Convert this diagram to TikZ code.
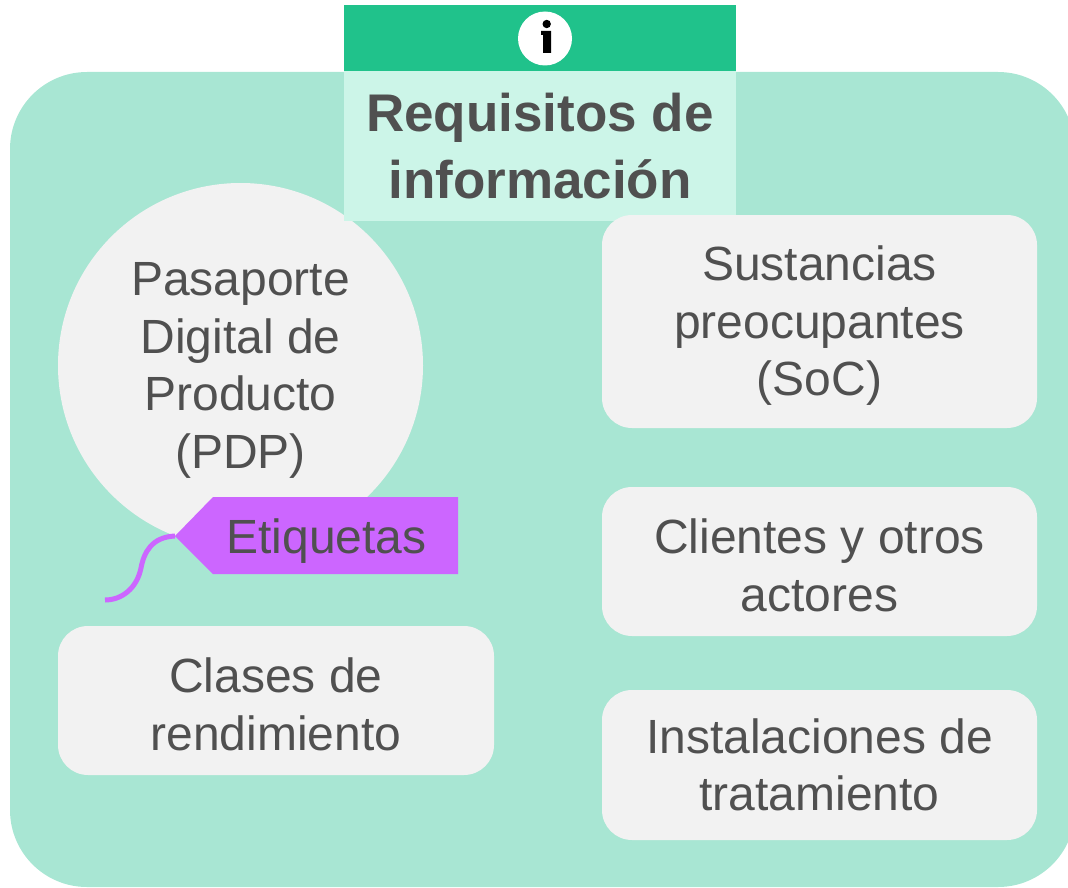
\documentclass[tikz,border=0pt]{standalone}
\usepackage{fontspec}
\setmainfont{Liberation Sans}
\definecolor{mintbg}{HTML}{A8E6D3}
\definecolor{headgreen}{HTML}{20C28B}
\definecolor{lightmint}{HTML}{CCF5E8}
\definecolor{boxgray}{HTML}{F2F2F2}
\definecolor{tagpurple}{HTML}{CC66FF}
\definecolor{textgray}{HTML}{505050}
\newcommand\tstrut{\rule{0pt}{43pt}}
\begin{document}
\begin{tikzpicture}[x=1pt,y=-1pt,
  txt/.style={text=textgray, font=\fontsize{48}{57.6}\selectfont, align=center, inner sep=0pt},
  graybox/.style={fill=boxgray, rounded corners=30pt, draw=none, minimum width=435pt, txt},
  tagshape/.style={fill=tagpurple, draw=none},
  tagstring/.style={draw=tagpurple, line width=5pt}]
\useasboundingbox (0,0) rectangle (1068,888);
\clip (0,0) rectangle (1068,888);
% main background
\fill[mintbg, rounded corners=77pt] (10,72) rectangle (1075,887);
% circle PDP
\node[circle, fill=boxgray, minimum size=365pt, txt] (pdp) at (240.5,365.5)
  {\tstrut Pasaporte\\Digital de\\Producto\\(PDP)};
% header
\node[fill=headgreen, minimum width=392pt, minimum height=67pt, inner sep=0pt] (head) at (540,38.5) {};
\node[fill=lightmint, minimum width=392pt, minimum height=150pt, inner sep=0pt,
  text=textgray, align=center, font=\fontsize{53}{67}\selectfont\bfseries] (title) at (540,146)
  {Requisitos de\\información};
% info icon
\node[circle, fill=white, minimum size=54pt, inner sep=0pt] (icon) at (545,38.5) {};
\fill[black] (546.7,24) circle (4.2pt);
\fill[black] (541,31) -- (551,31) -- (551,53) -- (543,53) -- (543,35) -- (541,35) -- cycle;
% gray boxes
\node[graybox, minimum height=213pt] (soc) at (819.5,321.5) {\tstrut Sustancias\\preocupantes\\(SoC)};
\node[graybox, minimum height=149pt] (cli) at (819.5,561.5) {\tstrut Clientes y otros\\actores};
\node[graybox, minimum height=150pt] (ins) at (819.5,765) {Instalaciones de\\tratamiento};
\node[graybox, minimum width=436pt, minimum height=149pt] (cla) at (276,700.5) {\tstrut Clases de\\rendimiento};
% tag
\coordinate (tip) at (175,536);
\coordinate (strend) at (105,600);
\fill[tagshape] (tip) -- (213,497) -- (458,497) -- (458,574) -- (213,574) -- cycle;
\node[txt] (tag) at (326.5,537) {\tstrut Etiquetas};
\draw[tagstring] (tip) .. controls (152,537) and (144,552) .. (141,568)
  .. controls (137,588) and (122,600) .. (strend);
\end{tikzpicture}
\end{document}
